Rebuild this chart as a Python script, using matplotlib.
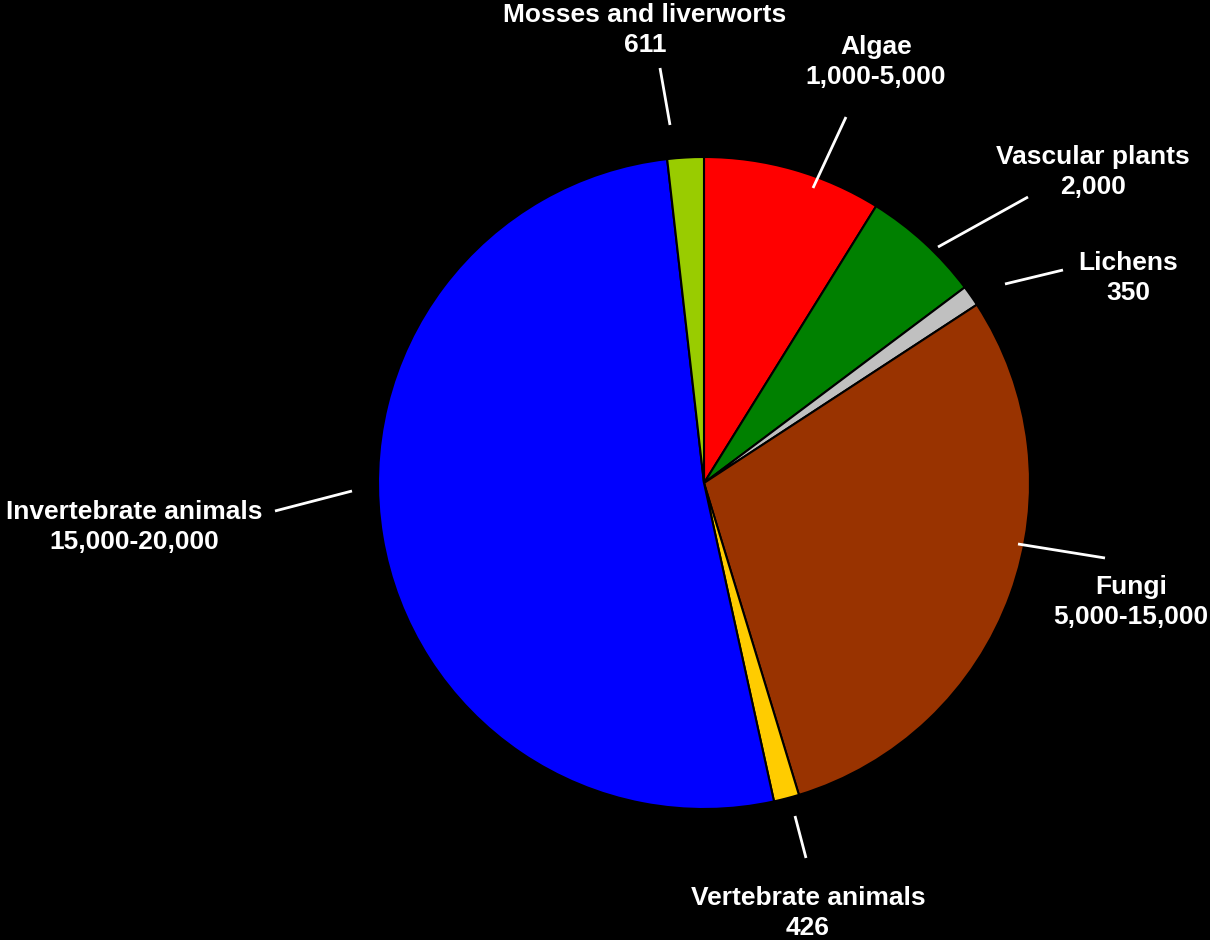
import matplotlib
matplotlib.use("Agg")
import matplotlib.pyplot as plt

# Data (clockwise from 12 o'clock)
categories = ["Algae", "Vascular plants", "Lichens", "Fungi",
              "Vertebrate animals", "Invertebrate animals", "Mosses and liverworts"]
values = [3000, 2000, 350, 10000, 426, 17500, 611]
value_labels = ["1,000-5,000", "2,000", "350", "5,000-15,000",
                "426", "15,000-20,000", "611"]
colors = ["#FF0000", "#008000", "#C0C0C0", "#993300",
          "#FFCC00", "#0000FF", "#99CC00"]

# Label placement (pixel coords, y from top): text center, leader line outer/inner ends
label_pos = [(876, 62), (1093, 172), (1128, 278), (1131, 602),
             (808, 913), (134, 527), (645, 30)]
leader = [((846, 117), (813, 188)),
          ((1028, 197), (938, 247)),
          ((1063, 270), (1005, 284)),
          ((1105, 558), (1018, 544)),
          ((806, 858), (795, 816)),
          ((275, 511), (352, 491)),
          ((660, 68), (670, 125))]

W, H = 1210, 940
fig = plt.figure(figsize=(W / 100, H / 100), dpi=100, facecolor="black")
ax = fig.add_axes([0, 0, 1, 1])
ax.set_facecolor("black")
ax.set_xlim(0, W)
ax.set_ylim(0, H)
ax.set_aspect("equal")
ax.axis("off")

center = (704, H - 483)
radius = 326
ax.pie(values, colors=colors, startangle=90, counterclock=False,
       center=center, radius=radius,
       wedgeprops=dict(edgecolor="black", linewidth=1.5))
ax.set_xlim(0, W)
ax.set_ylim(0, H)

for cat, vl, (tx, ty), ((x1, y1), (x2, y2)) in zip(categories, value_labels, label_pos, leader):
    ax.text(tx, H - ty, f"{cat}\n{vl}", ha="center", va="center",
            color="white", fontsize=19, fontweight="bold",
            family=["Liberation Sans", "DejaVu Sans"], linespacing=1.3)
    ax.plot([x1, x2], [H - y1, H - y2], color="white", linewidth=2.0,
            solid_capstyle="butt")

fig.savefig("out.png", dpi=100, facecolor="black")
